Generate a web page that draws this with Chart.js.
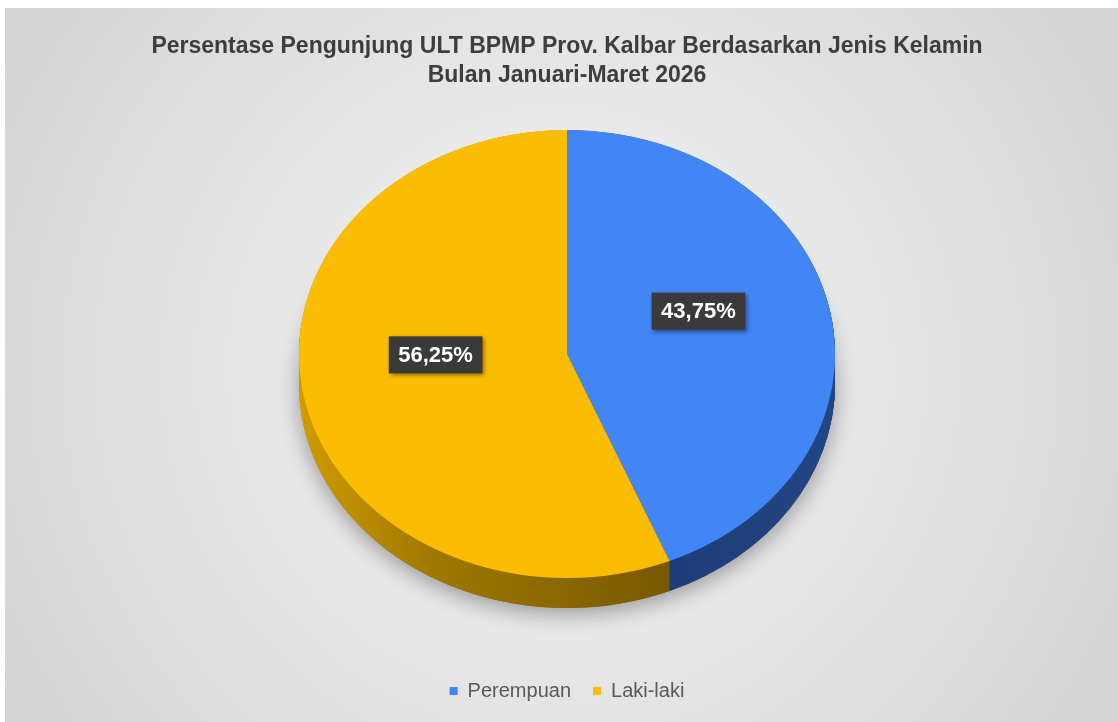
<!DOCTYPE html>
<html>
<head>
<meta charset="utf-8">
<script src="https://cdn.jsdelivr.net/npm/chart.js@4.4.1/dist/chart.umd.min.js"></script>
<style>
    html, body { margin: 0; padding: 0; background: #fff; }
    #wrap { width: 1118px; height: 722px; position: relative; }
</style>
</head>
<body>
<div id="wrap"><canvas id="pieChart"></canvas></div>
<script>
// Datos
const categories = ['Perempuan', 'Laki-laki'];
const percentages = [43.75, 56.25];
const titleLines = ['Persentase Pengunjung ULT BPMP Prov. Kalbar Berdasarkan Jenis Kelamin', 'Bulan Januari-Maret 2026'];

// Colores
const faceColors = ['#4285F4', '#FBBC04'];
const FONT = '"Liberation Sans", Arial, sans-serif';

// Geometría del efecto 3D
const TILT = 0.836;
const FACE_Y = 354;
const DEPTH = 30;
const LABEL_SHIFT = -21;

function labelText(v) {
    return v.toFixed(2).replace('.', ',') + '%';
}

// Fondo gris con degradado
const bgPlugin = {
    id: 'bg',
    beforeDraw(chart) {
        const { ctx, width, height } = chart;
        ctx.save();
        ctx.fillStyle = '#fff';
        ctx.fillRect(0, 0, width, height);
        const g = ctx.createRadialGradient(560, 370, 40, 560, 370, 720);
        g.addColorStop(0, '#f4f4f4');
        g.addColorStop(1, '#d0d0d0');
        ctx.fillStyle = g;
        ctx.fillRect(5, 8, width - 5, height - 8);
        ctx.restore();
    }
};

// Pastel inclinado con lateral y etiquetas
const pie3d = {
    id: 'pie3d',
    beforeDatasetsDraw(chart) {
        const ctx = chart.ctx;
        const arcs = chart.getDatasetMeta(0).data;
        const cx = arcs[0].x, cy = arcs[0].y, r = arcs[0].outerRadius;
        ctx.save();
        ctx.translate(cx, FACE_Y);
        ctx.scale(1, TILT);
        ctx.translate(-cx, -cy);
        const off = DEPTH / TILT;

        // sombra
        ctx.save();
        ctx.shadowColor = 'rgba(0,0,0,0.35)';
        ctx.shadowBlur = 22;
        ctx.shadowOffsetY = 6;
        ctx.fillStyle = '#777';
        ctx.beginPath();
        ctx.arc(cx, cy + off, r, 0, Math.PI * 2);
        ctx.fill();
        ctx.restore();

        const gBlue = ctx.createLinearGradient(cx, 0, cx + r, 0);
        gBlue.addColorStop(0, '#1b3771');
        gBlue.addColorStop(1, '#234683');
        const gYellow = ctx.createLinearGradient(cx - r, 0, cx + 110, 0);
        gYellow.addColorStop(0, '#cf9c00');
        gYellow.addColorStop(0.35, '#a07800');
        gYellow.addColorStop(1, '#775800');
        const sides = [gBlue, gYellow];

        for (let d = off; d >= 0; d -= 0.5) {
            arcs.forEach((arc, i) => {
                const p = arc.getProps(['startAngle', 'endAngle', 'outerRadius'], true);
                ctx.beginPath();
                ctx.moveTo(cx, cy + d);
                ctx.arc(cx, cy + d, p.outerRadius, p.startAngle, p.endAngle);
                ctx.closePath();
                ctx.fillStyle = sides[i];
                ctx.fill();
            });
        }
    },
    afterDatasetsDraw(chart) {
        const ctx = chart.ctx;
        ctx.restore();
        const arcs = chart.getDatasetMeta(0).data;
        const cy = arcs[0].y;
        ctx.save();
        ctx.font = 'bold 22px ' + FONT;
        ctx.textAlign = 'center';
        ctx.textBaseline = 'middle';
        arcs.forEach((arc, i) => {
            const pos = arc.tooltipPosition(true);
            const x = pos.x;
            const y = FACE_Y + (pos.y - cy) * TILT + LABEL_SHIFT;
            const txt = labelText(percentages[i]);
            const w = ctx.measureText(txt).width + 19, h = 37;
            ctx.save();
            ctx.shadowColor = 'rgba(0,0,0,0.45)';
            ctx.shadowBlur = 4;
            ctx.shadowOffsetX = 2;
            ctx.shadowOffsetY = 2;
            ctx.fillStyle = '#3a3a3a';
            ctx.fillRect(x - w / 2, y - h / 2, w, h);
            ctx.restore();
            ctx.fillStyle = '#fff';
            ctx.fillText(txt, x, y + 1);
        });
        ctx.restore();
    }
};

new Chart(document.getElementById('pieChart'), {
    type: 'pie',
    data: {
        labels: categories,
        datasets: [{
            data: percentages,
            backgroundColor: faceColors,
            borderWidth: 0,
            radius: 268,
            clip: false
        }]
    },
    options: {
        responsive: true,
        maintainAspectRatio: false,
        animation: false,
        events: [],
        layout: { padding: { left: 16, right: 0, top: 8, bottom: 11 } },
        plugins: {
            title: {
                display: true,
                text: titleLines,
                color: '#3d3d3d',
                font: { family: FONT, size: 23, weight: 'bold', lineHeight: 1.26 },
                padding: { top: 24, bottom: 10 }
            },
            legend: {
                position: 'bottom',
                labels: {
                    boxWidth: 8,
                    boxHeight: 8,
                    color: '#595959',
                    font: { family: FONT, size: 20 },
                    padding: 22
                }
            },
            tooltip: { enabled: false }
        }
    },
    plugins: [bgPlugin, pie3d]
});
</script>
</body>
</html>
